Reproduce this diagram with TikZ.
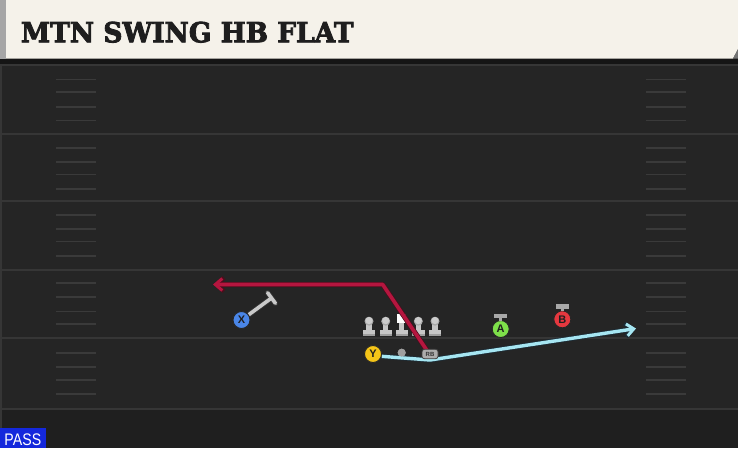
\documentclass[tikz,border=0pt]{standalone}
\usepackage{fontspec}
\setmainfont{DejaVu Serif}[BoldFeatures={FakeBold=3}]
\setsansfont{Liberation Sans}
\usetikzlibrary{arrows.meta}
\definecolor{fieldbg}{HTML}{252525}
\definecolor{fieldlow}{HTML}{1F1F1F}
\definecolor{fieldline}{HTML}{363636}
\definecolor{hashcol}{HTML}{3A3A3A}
\definecolor{cream}{HTML}{F5F2EA}
\definecolor{titlecol}{HTML}{1E1E1E}
\definecolor{band}{HTML}{151515}
\definecolor{routered}{HTML}{B5163F}
\definecolor{rededge}{HTML}{4A0E1C}
\definecolor{routeblue}{HTML}{A6E6F2}
\definecolor{blueedge}{HTML}{1C2C36}
\definecolor{olgray}{HTML}{C6C6C6}
\definecolor{xblue}{HTML}{4A86E8}
\definecolor{yyellow}{HTML}{F5C518}
\definecolor{agreen}{HTML}{7EE04A}
\definecolor{bred}{HTML}{E5383F}
\definecolor{passblue}{HTML}{1428DC}
\begin{document}
\begin{tikzpicture}[x=1pt,y=-1pt,
  player/.style={circle,draw=black!85,line width=0.9pt,minimum size=17pt,inner sep=0pt,
    font=\sffamily\bfseries\fontsize{11}{11}\selectfont,text=black!88},
  hashmark/.style={draw=hashcol,line width=1.6pt},
  yardline/.style={draw=fieldline,line width=2pt},
  redroute/.style={draw=routered,line width=3.6pt,line join=round,
    -{Straight Barb[length=7pt,width=12pt,line width=3pt]}},
  redroutebg/.style={draw=rededge,line width=5pt,line join=round,
    -{Straight Barb[length=7.6pt,width=13.4pt,line width=4.4pt]}},
  blueroute/.style={draw=routeblue,line width=3.4pt,line join=round,
    -{Straight Barb[length=7pt,width=12pt,line width=3pt]}},
  bluebg/.style={draw=blueedge,line width=5pt,line join=round,
    -{Straight Barb[length=7.6pt,width=13.4pt,line width=4.4pt]}},
  stickbg/.style={draw=black!80,line width=5.4pt},
  stick/.style={draw=olgray!95!white,line width=3.6pt},
  blockbar/.style={fill=olgray!85!black},
  qbdot/.style={circle,fill=gray!75,minimum size=8pt,inner sep=0pt},
]
\useasboundingbox (0,0) rectangle (738,448);
% field
\fill[fieldbg] (0,0) rectangle (738,448);
\fill[fieldlow] (0,409) rectangle (738,448);
\fill[band] (0,58) rectangle (738,63.8);
\draw[yardline] (0,65) -- (738,65);
\fill[fieldline] (0,64) rectangle (2.2,448);
% yard lines
\foreach \yy in {133.7,201.3,270,338.2,408.5}
  \draw[yardline] (0,\yy) -- (738,\yy);
% hash marks
\foreach \yy in {79.3,91.7,106.7,120.3,147.7,161.7,174.3,188.7,214.7,228.7,241.3,255.7,282.7,297,311.3,324,352.7,367,379.7,393.7}{
  \draw[hashmark] (56,\yy) -- (96,\yy);
  \draw[hashmark] (646,\yy) -- (686,\yy);
}
% header
\fill[cream] (6,0) -- (738,0) -- (738,49) -- (733,58.5) -- (6,58.5) -- cycle;
\fill[black!55] (733,58.5) -- (738,49) -- (738,58.5) -- cycle;
\fill[gray!70] (0,0) rectangle (6,58.5);
\node[anchor=base west,inner sep=0pt,text=titlecol] (title) at (20.7,42.3)
  {\resizebox{332.6pt}{20.6pt}{\bfseries MTN SWING HB FLAT}};
% offensive line
\foreach \cx in {369,385.7,418.3,435}{
  \fill[olgray!80!black] (\cx-6.2,330) rectangle (\cx+6.2,336);
  \fill[olgray] (\cx-6.2,330) rectangle (\cx+6.2,334.2);
  \fill[olgray] (\cx-2.6,323) rectangle (\cx+2.6,331);
  \fill[olgray!85!black] (\cx,321.2) circle (4.5);
  \fill[olgray!90!white] (\cx,320.6) circle (3.6);
}
\fill[olgray!80!black] (395.5,330) rectangle (407.9,336);
\fill[olgray] (395.5,330) rectangle (407.9,334.2);
\fill[olgray] (399.1,322) rectangle (404.3,331);
\node[fill=white,minimum size=8.6pt,inner sep=0pt] (center) at (401.7,318.5) {};
% players
\node[player,fill=xblue] (x) at (241.5,320) {X};
\node[player,fill=yyellow] (y) at (373,354) {Y};
\node[player,fill=agreen] (a) at (500.7,329) {A};
\node[player,fill=bred] (b) at (562.3,319.3) {B};
\node[qbdot] (qb) at (401.7,352.7) {};
% block bars
\fill[blockbar] (494.2,314) rectangle (507.2,318.3);
\fill[blockbar] (499.2,317) rectangle (502.2,321);
\fill[blockbar] (555.8,304.3) rectangle (568.8,308.6);
\fill[blockbar] (560.8,307) rectangle (563.8,311.4);
% X stick
\coordinate (xt) at (271.5,298);
\coordinate (xta) at (267.6,292.7);
\coordinate (xtb) at (275.4,303.3);
\draw[stickbg] (x) -- (xt);
\draw[stickbg,line cap=round] (xta) -- (xtb);
\draw[stick] (x) -- (xt);
\draw[stick,line cap=round] (xta) -- (xtb);
\node[player,fill=xblue] at (x) {X};
% route points
\coordinate (bmid) at (430,360);
\coordinate (bend) at (636,328.5);
\coordinate (rcorner) at (382.7,284.5);
\coordinate (rend) at (213,284.5);
\coordinate (rstart) at (428,352);
% routes
\draw[redroutebg] (rstart) -- (rcorner) -- (rend);
\draw[redroute] (rstart) -- (rcorner) -- (rend);
\draw[bluebg] (y.-15) -- (bmid) -- (bend);
\draw[blueroute] (y.-15) -- (bmid) -- (bend);
\node[player,fill=yyellow] at (y) {Y};
\node[qbdot] at (qb) {};
\node[rounded corners=2.5pt,fill=gray!65,draw=black!75,line width=0.8pt,minimum width=16pt,minimum height=9.5pt,inner sep=0pt,
  font=\sffamily\bfseries\fontsize{6}{6}\selectfont,text=black!80] (rb) at (430,354) {RB};
% pass label
\fill[passblue] (0,428) rectangle (46,448);
\node[anchor=base west,inner sep=0pt,text=white] (pass) at (4.3,445)
  {\resizebox{36.7pt}{11.7pt}{\sffamily PASS}};
\end{tikzpicture}
\end{document}
